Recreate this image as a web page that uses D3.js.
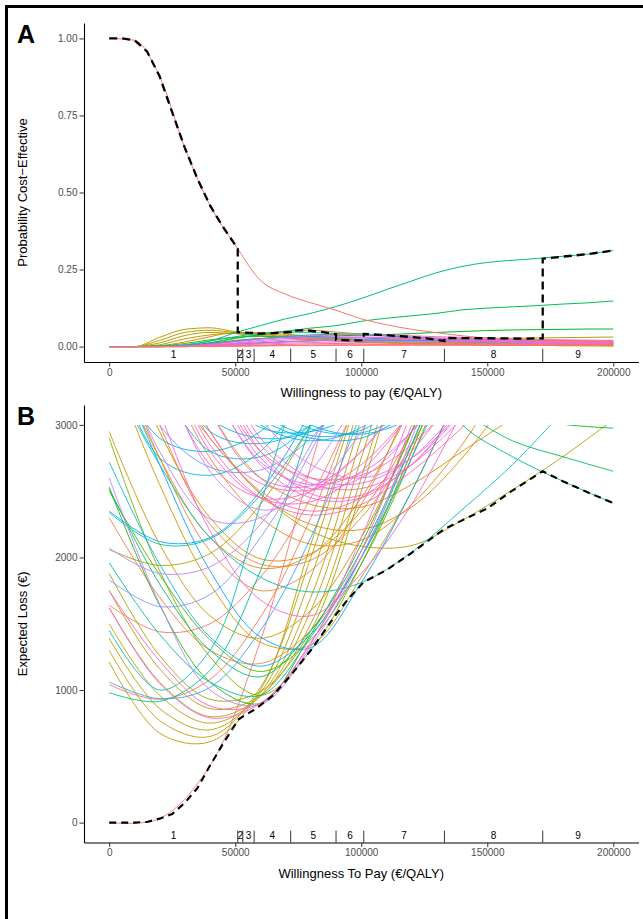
<!DOCTYPE html>
<html>
<head>
<meta charset="utf-8">
<script src="https://cdn.jsdelivr.net/npm/d3@7"></script>
<style>
  body { margin: 0; background: #fff; }
  svg { display: block; font-family: "Liberation Sans", Arial, Helvetica, sans-serif; }
</style>
</head>
<body>
<svg id="chart" width="643" height="919"></svg>
<script>
// DATA
const nStrategies = 100;

// panel A: probability cost-effective, sampled every 10000 €/QALY
const wtpA = [0,10000,20000,30000,40000,50000,60000,70000,80000,90000,100000,
              110000,120000,130000,140000,150000,160000,170000,180000,190000,200000];
const ceacIds = [13,15,17,19,12,8,20,30,33,37,41,45,49,58,64,76,80,84,88,92,96,99,1,100];
const ceacProbs = [
  [0,0,0.006,0.025,0.038,0.043,0.041,0.036,0.030,0.025,0.021,0.018,0.015,0.013,0.011,0.010,0.009,0.008,0.007,0.007,0.006],
  [0,0,0.020,0.046,0.053,0.045,0.036,0.029,0.023,0.019,0.015,0.012,0.010,0.008,0.007,0.006,0.005,0.004,0.003,0.003,0.003],
  [0,0,0.030,0.056,0.061,0.048,0.040,0.032,0.026,0.021,0.017,0.014,0.011,0.009,0.007,0.006,0.005,0.004,0.004,0.003,0.003],
  [0,0,0.012,0.036,0.046,0.042,0.035,0.028,0.022,0.018,0.014,0.012,0.010,0.008,0.006,0.005,0.004,0.004,0.003,0.003,0.002],
  [0,0,0.003,0.015,0.032,0.046,0.045,0.040,0.034,0.028,0.023,0.019,0.016,0.013,0.011,0.010,0.009,0.008,0.007,0.006,0.006],
  [0,0,0,0.003,0.012,0.026,0.040,0.050,0.053,0.047,0.041,0.035,0.030,0.026,0.022,0.019,0.017,0.015,0.014,0.013,0.012],
  [0,0,0,0.001,0.004,0.008,0.012,0.016,0.019,0.021,0.023,0.025,0.026,0.027,0.027,0.027,0.027,0.028,0.029,0.030,0.031],
  [0,0,0.002,0.010,0.022,0.030,0.033,0.032,0.029,0.026,0.023,0.020,0.018,0.016,0.014,0.013,0.012,0.011,0.010,0.009,0.009],
  [0,0,0,0.002,0.010,0.020,0.026,0.030,0.033,0.035,0.037,0.039,0.042,0.046,0.049,0.052,0.054,0.055,0.056,0.057,0.057],
  [0,0,0,0.003,0.012,0.028,0.038,0.050,0.060,0.068,0.082,0.092,0.100,0.108,0.119,0.125,0.129,0.133,0.138,0.142,0.148],
  [0,0,0.001,0.005,0.018,0.045,0.068,0.090,0.108,0.130,0.156,0.185,0.213,0.240,0.260,0.273,0.280,0.286,0.293,0.300,0.312],
  [0,0,0.001,0.006,0.018,0.032,0.043,0.047,0.046,0.042,0.038,0.034,0.030,0.027,0.025,0.023,0.021,0.020,0.019,0.018,0.017],
  [0,0,0,0.002,0.008,0.016,0.025,0.033,0.038,0.040,0.041,0.037,0.031,0.022,0.018,0.016,0.014,0.013,0.012,0.011,0.010],
  [0,0,0,0.001,0.004,0.008,0.012,0.016,0.019,0.021,0.021,0.021,0.020,0.019,0.018,0.017,0.016,0.015,0.014,0.013,0.012],
  [0,0,0,0.002,0.008,0.018,0.026,0.030,0.031,0.030,0.028,0.025,0.022,0.019,0.017,0.015,0.013,0.012,0.011,0.010,0.009],
  [0,0,0,0.001,0.005,0.012,0.020,0.026,0.030,0.032,0.031,0.029,0.026,0.023,0.020,0.018,0.016,0.014,0.013,0.012,0.011],
  [0,0,0,0,0.002,0.005,0.008,0.011,0.013,0.015,0.016,0.017,0.017,0.016,0.016,0.015,0.014,0.014,0.013,0.013,0.013],
  [0,0,0,0.001,0.005,0.010,0.016,0.021,0.025,0.028,0.030,0.030,0.029,0.027,0.025,0.023,0.022,0.020,0.019,0.018,0.018],
  [0,0,0,0.002,0.008,0.016,0.024,0.030,0.035,0.038,0.040,0.038,0.035,0.032,0.030,0.027,0.025,0.023,0.022,0.021,0.020],
  [0,0,0,0,0.003,0.007,0.011,0.015,0.018,0.020,0.022,0.023,0.023,0.022,0.021,0.020,0.019,0.018,0.017,0.016,0.016],
  [0,0,0,0,0.001,0.003,0.005,0.007,0.009,0.010,0.011,0.012,0.012,0.012,0.011,0.011,0.011,0.010,0.010,0.010,0.010],
  [0,0,0,0,0.001,0.002,0.003,0.004,0.005,0.006,0.006,0.007,0.007,0.007,0.007,0.007,0.007,0.007,0.006,0.006,0.006],
  [1.000,0.994,0.877,0.645,0.458,0.330,0.215,0.170,0.142,0.118,0.090,0.071,0.056,0.045,0.035,0.028,0.024,0.021,0.019,0.017,0.015],
  [0,0,0,0,0,0.001,0.002,0.003,0.003,0.004,0.004,0.004,0.004,0.004,0.004,0.004,0.004,0.004,0.004,0.004,0.004]
];

// acceptability frontier (dashed)
const frontierAx = [0,5000,10000,15000,20000,25000,30000,35000,40000,45000,50000,51000,
  51000,53000,57500, 57500,65000,72000, 72000,78000,85000,90000, 90000,95000,101000,
  101000,110000,120000,126000,133000, 133000,150000,165000,172000, 172000,180000,190000,200000];
const frontierAy = [1,1,0.994,0.958,0.877,0.76,0.645,0.545,0.458,0.39,0.33,0.318,
  0.047,0.046,0.044, 0.042,0.044,0.047, 0.051,0.053,0.047,0.040, 0.022,0.020,0.020,
  0.041,0.037,0.031,0.027,0.018, 0.028,0.027,0.026,0.027, 0.285,0.292,0.300,0.312];

// panel B: expected loss, sampled every 20000 €/QALY (null = far above the 3000 limit)
const wtpB = [0,20000,40000,60000,80000,100000,120000,140000,160000,180000,200000];
const lossIds = [1,2,3,4,5,6,7,8,9,10,11,12,13,14,15,16,17,18,19,20,21,22,26,30,32,33,37,38,41,42,44,46,48,
  49,50,52,53,54,55,56,57,58,59,60,61,62,64,65,66,68,70,74,75,76,78,80,81,82,83,84,85,86,87,88,89,90,91,92,93,94,95,97];
const lossValues = [
  [0,30,430,1370,2690,4000,null,null,null,null,null],
  [1640,1440,1500,1850,2450,3250,null,null,null,null,null],
  [1040,930,1080,1550,2300,3300,null,null,null,null,null],
  [2300,1700,1300,1200,1450,2000,2800,3800,null,null,null],
  [4000,3000,2250,1950,1980,2300,2850,3600,null,null,null],
  [3700,2750,2050,1750,1900,2400,3200,null,null,null,null],
  [null,3500,2750,2300,2100,2130,2400,2850,3450,null,null],
  [3900,2950,2300,1990,2030,2350,2950,3800,null,null,null],
  [null,3700,2950,2480,2250,2210,2380,2750,3250,null,null],
  [3600,2750,2150,1920,2020,2450,3150,null,null,null,null],
  [null,3900,3100,2600,2400,2380,2550,2800,3050,null,null],
  [3500,2550,1800,1360,1340,1850,2500,3300,null,null,null],
  [2950,2100,1560,1390,1600,2150,2950,3900,null,null,null],
  [1500,960,750,960,1700,2900,4100,null,null,null,null],
  [1300,770,650,1020,2000,3200,null,null,null,null,null],
  [1750,1160,860,960,1500,2600,3900,null,null,null,null],
  [1210,675,610,1000,2100,3300,null,null,null,null,null],
  [1620,1060,800,950,1600,2750,4000,null,null,null,null],
  [1390,860,700,980,1850,3050,null,null,null,null,null],
  [null,3400,2900,2480,2200,2085,2090,2280,2510,2760,3040],
  [2060,1940,2030,2400,3000,3700,null,null,null,null,null],
  [1880,1260,930,990,1450,2500,3800,null,null,null,null],
  [2900,1900,1250,960,1300,1950,2800,3800,null,null,null],
  [2500,1870,1380,1140,1380,1950,2750,3700,null,null,null],
  [2530,1640,1060,900,1420,2100,2950,3900,null,null,null],
  [null,null,null,null,null,null,null,3200,3080,3005,2975],
  [null,null,null,null,null,null,null,3100,2880,2760,2650],
  [2520,1800,1300,1100,1450,2050,2850,3800,null,null,null],
  [null,null,null,null,null,null,3500,3000,2760,2575,2410],
  [980,915,1150,1900,3000,4100,null,null,null,null,null],
  [1960,1420,1060,960,1400,2000,2850,3800,null,null,null],
  [2340,2100,2140,2470,3000,3700,null,null,null,null,null],
  [1450,1000,1300,2400,3700,null,null,null,null,null,null],
  [3400,2700,2150,1850,1740,1810,2040,2360,2700,3100,null],
  [3600,2750,2620,2800,3300,null,null,null,null,null,null],
  [null,3300,2800,2760,3000,3400,null,null,null,null,null],
  [null,3600,2950,2860,3000,3400,null,null,null,null,null],
  [null,null,3300,2980,2950,3100,3400,null,null,null,null],
  [null,null,3400,3000,2880,2980,3300,null,null,null,null],
  [3500,2900,2800,2950,3350,null,null,null,null,null,null],
  [null,null,null,3200,2970,2940,3100,null,null,null,null],
  [2720,1950,1400,1180,1420,2000,2750,3600,null,null,null],
  [null,null,3600,3100,2920,2960,3200,null,null,null,null],
  [null,3600,3050,2900,2950,3200,null,null,null,null,null],
  [null,null,null,3300,3000,2930,3050,3300,null,null,null],
  [null,null,3500,3050,2900,2900,3100,null,null,null,null],
  [2350,2120,2150,2500,3100,null,null,null,null,null,null],
  [3600,2700,1900,1400,1320,1810,2500,3300,null,null,null],
  [1060,935,1020,1450,2150,3100,null,null,null,null,null],
  [3900,3000,2680,2660,2900,3400,null,null,null,null,null],
  [1830,1630,1720,2150,2800,3600,null,null,null,null,null],
  [2070,1880,1930,2250,2850,3600,null,null,null,null,null],
  [2600,1650,1000,890,1330,2000,2900,3900,null,null,null],
  [3700,2800,2290,2300,2650,3250,null,null,null,null,null],
  [null,3500,2650,2360,2500,2950,3600,null,null,null,null],
  [null,null,3700,3050,2700,2600,2750,3100,null,null,null],
  [null,null,3300,2720,2550,2640,2950,3400,null,null,null],
  [null,null,3400,2750,2520,2600,2950,3500,null,null,null],
  [null,null,3600,2900,2600,2560,2750,3150,null,null,null],
  [null,4000,3100,2600,2540,2800,3300,null,null,null,null],
  [null,null,3300,2700,2450,2450,2700,3100,null,null,null],
  [1620,1050,790,900,1350,2150,3100,null,null,null,null],
  [null,3600,2800,2450,2420,2650,3100,null,null,null,null],
  [4200,3100,2200,1680,1560,1880,2400,3100,null,null,null],
  [null,null,3500,2850,2560,2520,2700,3050,null,null,null],
  [1750,1220,880,900,1360,2050,3000,4000,null,null,null],
  [null,3400,2700,2450,2500,2800,3300,null,null,null,null],
  [null,null,3500,2800,2480,2470,2700,3150,null,null,null],
  [null,3700,2900,2560,2510,2700,3100,null,null,null,null],
  [null,3600,2850,2450,2320,2400,2650,2980,3350,null,null],
  [null,3800,2950,2500,2350,2450,2800,3300,null,null,null],
  [null,null,3400,2800,2600,2620,2850,3250,null,null,null]
];

// expected loss frontier (dashed)
const frontierBx = [0,10000,15000,20000,25000,30000,35000,40000,45000,50000,51000,53000,57500,60000,65000,
  72000,80000,90000,95000,101000,110000,120000,133000,140000,150000,160000,172000,180000,190000,200000];
const frontierBy = [0,0,5,30,65,150,260,430,590,740,775,800,850,885,960,
  1110,1300,1570,1690,1815,1905,2035,2215,2280,2370,2505,2650,2575,2490,2410];

// optimal strategy regions along the x axis
const regionBreaks = [51000,53000,57500,72000,90000,101000,133000,172000];
const regionLabels = ["1","2","3","4","5","6","7","8","9"];

// ggplot-style hue palette (polar LUV, l = 65, c = 100)
function hueColor(id) {
  const h = 15 + (id - 1) * 360 / nStrategies;
  const L = 65, C = 100, rad = h * Math.PI / 180;
  const Xn = 95.047, Yn = 100, Zn = 108.883;
  const dn = Xn + 15 * Yn + 3 * Zn;
  const un = 4 * Xn / dn, vn = 9 * Yn / dn;
  const Y = Yn * Math.pow((L + 16) / 116, 3);
  const up = C * Math.cos(rad) / (13 * L) + un;
  const vp = C * Math.sin(rad) / (13 * L) + vn;
  const X = Y * 9 * up / (4 * vp);
  const Z = Y * (12 - 3 * up - 20 * vp) / (4 * vp);
  const x = X / 100, y = Y / 100, z = Z / 100;
  const r = 3.2404542 * x - 1.5371385 * y - 0.4985314 * z;
  const g = -0.9692660 * x + 1.8760108 * y + 0.0415560 * z;
  const b = 0.0556434 * x - 0.2040259 * y + 1.0572252 * z;
  const gam = c => { c = Math.max(0, Math.min(1, c)); return c <= 0.0031308 ? 12.92 * c : 1.055 * Math.pow(c, 1 / 2.4) - 0.055; };
  return d3.rgb(gam(r) * 255, gam(g) * 255, gam(b) * 255).formatHex();
}

const svg = d3.select("#chart");

// outer frame
svg.append("rect")
  .attr("x", 6.5).attr("y", 6.5)
  .attr("width", 660).attr("height", 940)
  .attr("fill", "none").attr("stroke", "#000").attr("stroke-width", 3);

const left = 84, right = 638.5;

function drawPanel(opt) {
  const x = d3.scaleLinear().domain([-10000, 210000]).range([left, right]);
  const y = d3.scaleLinear().domain(opt.yDomain).range([opt.bottom, opt.top]);
  const g = svg.append("g");

  const clipId = "clip" + opt.letter;
  svg.append("clipPath").attr("id", clipId)
    .append("rect")
    .attr("x", left).attr("y", y(opt.clipMax))
    .attr("width", right - left).attr("height", opt.bottom - y(opt.clipMax));

  const lines = g.append("g").attr("clip-path", `url(#${clipId})`);
  const line = d3.line()
    .defined(d => d.v != null)
    .x(d => x(d.x)).y(d => y(d.v))
    .curve(opt.curve);

  opt.ids.forEach((id, i) => {
    const pts = opt.wtp.map((w, j) => ({ x: w, v: opt.values[i][j] }));
    lines.append("path")
      .attr("d", line(pts))
      .attr("fill", "none")
      .attr("stroke", hueColor(id))
      .attr("stroke-width", opt.lineWidth);
  });

  const front = opt.fx.map((w, j) => ({ x: w, v: opt.fy[j] }));
  lines.append("path")
    .attr("d", d3.line().x(d => x(d.x)).y(d => y(d.v)).curve(d3.curveLinear)(front))
    .attr("fill", "none")
    .attr("stroke", "#000")
    .attr("stroke-width", opt.dashWidth)
    .attr("stroke-dasharray", opt.dash);

  // region markers
  regionBreaks.forEach(b => {
    g.append("line")
      .attr("x1", x(b)).attr("x2", x(b))
      .attr("y1", y(opt.markLow)).attr("y2", y(opt.markHigh))
      .attr("stroke", "#000").attr("stroke-width", 0.8);
  });
  const edges = [0].concat(regionBreaks, [200000]);
  regionLabels.forEach((lab, i) => {
    g.append("text")
      .attr("x", x((edges[i] + edges[i + 1]) / 2))
      .attr("y", y(opt.labelY))
      .attr("dy", "0.35em")
      .attr("text-anchor", "middle")
      .attr("font-size", 10)
      .attr("fill", "#000")
      .text(lab);
  });

  // axes
  const xAxis = g.append("g")
    .attr("transform", `translate(0,${opt.bottom})`)
    .call(d3.axisBottom(x).tickValues([0, 50000, 100000, 150000, 200000])
      .tickFormat(d3.format("d")).tickSize(4.5).tickSizeOuter(0).tickPadding(2));
  const yAxis = g.append("g")
    .attr("transform", `translate(${left},0)`)
    .call(d3.axisLeft(y).tickValues(opt.yTicks)
      .tickFormat(opt.yFormat).tickSize(4.5).tickSizeOuter(0).tickPadding(2));
  [xAxis, yAxis].forEach(a => {
    a.select(".domain").attr("stroke", "#000").attr("stroke-width", 1.1);
    a.selectAll(".tick line").attr("stroke", "#333").attr("stroke-width", 1);
    a.selectAll(".tick text").attr("fill", "#4d4d4d").attr("font-size", 10)
      .attr("font-family", "Liberation Sans, Arial, sans-serif");
  });

  g.append("text")
    .attr("x", (left + right) / 2).attr("y", opt.xTitleY)
    .attr("text-anchor", "middle").attr("font-size", 13).attr("fill", "#000")
    .text(opt.xTitle);
  g.append("text")
    .attr("transform", `translate(27,${(opt.top + opt.bottom) / 2}) rotate(-90)`)
    .attr("text-anchor", "middle").attr("font-size", 13).attr("fill", "#000")
    .text(opt.yTitle);
  g.append("text")
    .attr("x", 17).attr("y", opt.letterY)
    .attr("font-size", 25).attr("font-weight", "bold").attr("fill", "#000")
    .text(opt.letter);
}

drawPanel({
  letter: "A", letterY: 43,
  top: 23, bottom: 362, yDomain: [-0.05, 1.05], clipMax: 1.05,
  wtp: wtpA, ids: ceacIds, values: ceacProbs,
  fx: frontierAx, fy: frontierAy,
  curve: d3.curveMonotoneX, lineWidth: 1, dashWidth: 2.3, dash: "8,5",
  markLow: -0.05, markHigh: -0.007, labelY: -0.027,
  yTicks: [0, 0.25, 0.5, 0.75, 1], yFormat: d3.format(".2f"),
  xTitle: "Willingness to pay (€/QALY)", xTitleY: 397,
  yTitle: "Probability Cost\u2212Effective"
});

drawPanel({
  letter: "B", letterY: 425,
  top: 405, bottom: 842.5, yDomain: [-150, 3150], clipMax: 3000,
  wtp: wtpB, ids: lossIds, values: lossValues,
  fx: frontierBx, fy: frontierBy,
  curve: d3.curveCatmullRom.alpha(0.5), lineWidth: 0.9, dashWidth: 2.1, dash: "7,5",
  markLow: -150, markHigh: -60, labelY: -95,
  yTicks: [0, 1000, 2000, 3000], yFormat: d3.format("d"),
  xTitle: "Willingness To Pay (€/QALY)", xTitleY: 878,
  yTitle: "Expected Loss (€)"
});
</script>
</body>
</html>
